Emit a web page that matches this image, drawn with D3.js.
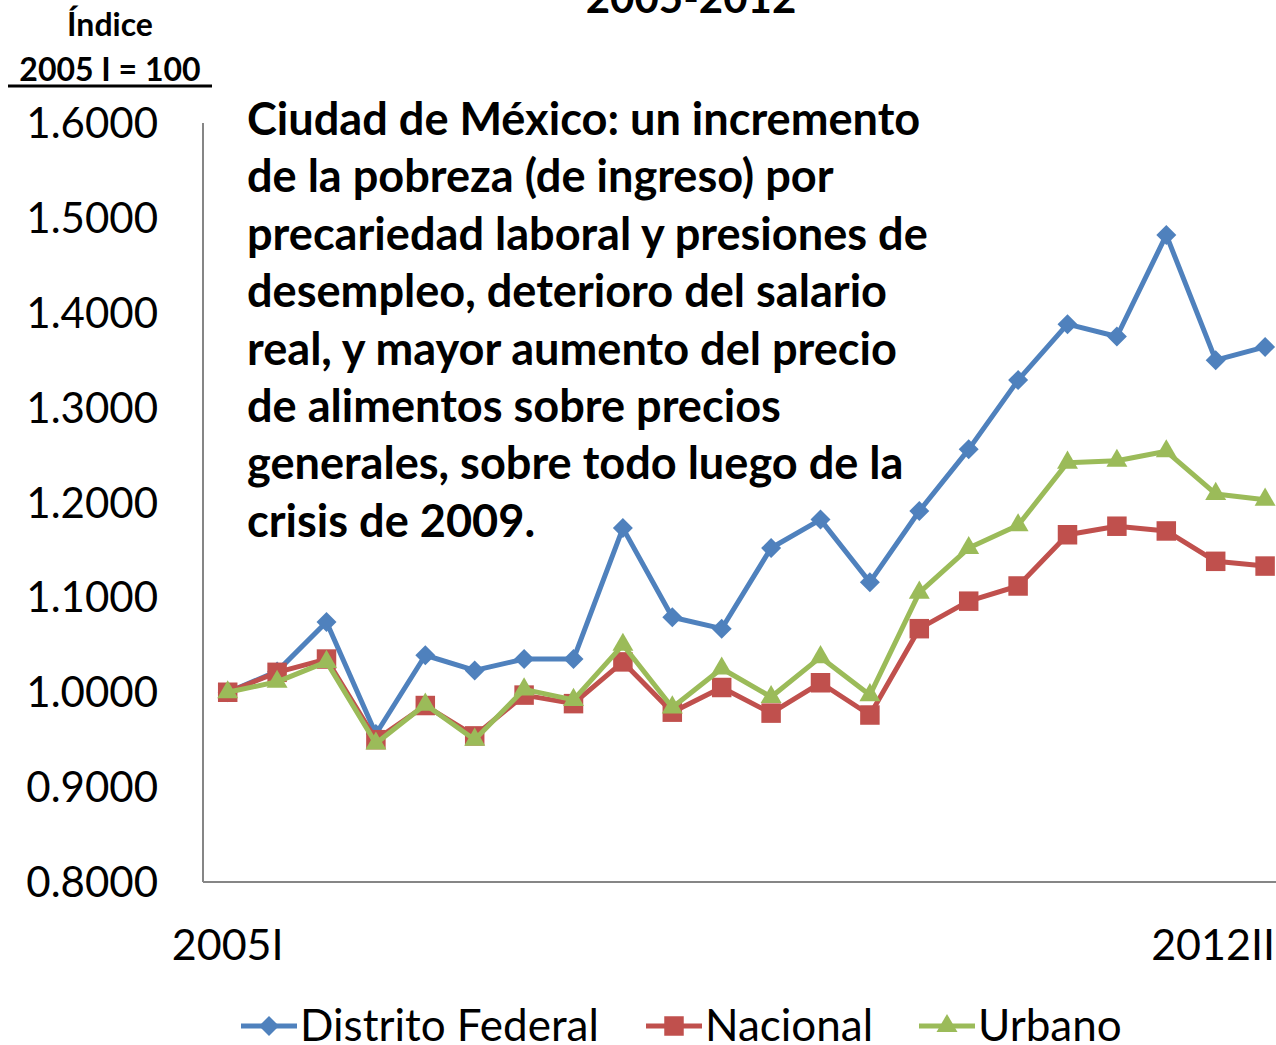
<!DOCTYPE html>
<html>
<head>
<meta charset="utf-8">
<script src="https://cdn.jsdelivr.net/npm/d3@7"></script>
<style>
  body { margin: 0; background: #fff; }
  svg { display: block; font-family: Lato, "Open Sans", sans-serif; }
</style>
</head>
<body>
<svg width="1276" height="1045"></svg>
<script>

// DATA

var periodLabels = ["2005I", "2012II"];   // only first and last are labelled
var nPeriods = 22;

var distritoFederal = [1.000, 1.022, 1.074, 0.956, 1.039, 1.023, 1.035, 1.035, 1.173, 1.079, 1.067,
                       1.152, 1.182, 1.116, 1.191, 1.256, 1.329, 1.388, 1.375, 1.482, 1.350, 1.364];
var nacional = [1.000, 1.021, 1.035, 0.950, 0.986, 0.954, 0.997, 0.988, 1.032, 0.979, 1.005,
                0.978, 1.010, 0.976, 1.067, 1.096, 1.112, 1.166, 1.175, 1.170, 1.138, 1.133];
var urbano = [1.000, 1.011, 1.032, 0.946, 0.987, 0.950, 1.003, 0.992, 1.050, 0.984, 1.025,
              0.995, 1.037, 0.997, 1.105, 1.152, 1.176, 1.242, 1.244, 1.254, 1.209, 1.203];

var yTicks = [0.8, 0.9, 1.0, 1.1, 1.2, 1.3, 1.4, 1.5, 1.6];

var seriesNames = ["Distrito Federal", "Nacional", "Urbano"];

var annotationLines = [
    "Ciudad de México: un incremento",
    "de la pobreza (de ingreso) por",
    "precariedad laboral y presiones de",
    "desempleo, deterioro del salario",
    "real, y mayor aumento del precio",
    "de alimentos sobre precios",
    "generales, sobre todo luego de la",
    "crisis de 2009."
];

var series = [
    {name: seriesNames[0], values: distritoFederal, color: "#4F81BD", shape: "diamond"},
    {name: seriesNames[1], values: nacional, color: "#C0504D", shape: "square"},
    {name: seriesNames[2], values: urbano, color: "#9BBB59", shape: "triangle"}
];


var svg = d3.select("svg"),
    width = +svg.attr("width"),
    height = +svg.attr("height");

var plotLeft = 203, plotTop = 123, plotBottom = 882;
var step = 49.4;

var x = d3.scaleBand()
    .domain(d3.range(nPeriods))
    .range([plotLeft, plotLeft + step * nPeriods])
    .padding(0);

function cx(i) { return x(i) + x.bandwidth() / 2; }

var y = d3.scaleLinear()
    .domain([0.8, 1.6])
    .range([plotBottom, plotTop]);

// axis lines
var axisColor = "#868686";
svg.append("line")
    .attr("x1", plotLeft).attr("x2", plotLeft)
    .attr("y1", plotTop).attr("y2", plotBottom)
    .attr("stroke", axisColor).attr("stroke-width", 2);
svg.append("line")
    .attr("x1", plotLeft).attr("x2", width)
    .attr("y1", plotBottom).attr("y2", plotBottom)
    .attr("stroke", axisColor).attr("stroke-width", 2);

// y tick labels
svg.append("g")
    .selectAll("text")
    .data(yTicks)
    .enter().append("text")
    .attr("x", 158)
    .attr("y", function (d) { return y(d); })
    .attr("dy", "0.36em")
    .attr("text-anchor", "end")
    .attr("font-size", 42)
    .attr("fill", "#000")
    .text(function (d) { return d3.format(".4f")(d); });

// x tick labels (first and last; the last one is pushed in from the edge)
var xl = svg.append("g");
xl.append("text")
    .attr("x", cx(0))
    .attr("y", 960)
    .attr("text-anchor", "middle")
    .attr("font-size", 43)
    .text(periodLabels[0]);
xl.append("text")
    .attr("x", width - 1)
    .attr("y", 960)
    .attr("text-anchor", "end")
    .attr("font-size", 43)
    .text(periodLabels[1]);

// markers
function symbolFor(shape) {
    if (shape === "diamond") return d3.symbol().type(d3.symbolSquare).size(200)();
    if (shape === "square") return d3.symbol().type(d3.symbolSquare).size(380)();
    return d3.symbol().type(d3.symbolTriangle).size(190)();
}
function rotFor(shape) { return shape === "diamond" ? " rotate(45)" : ""; }

var line = d3.line()
    .x(function (d, i) { return cx(i); })
    .y(function (d) { return y(d); });

var plot = svg.append("g");

series.forEach(function (s) {
    var g = plot.append("g");
    g.append("path")
        .datum(s.values)
        .attr("fill", "none")
        .attr("stroke", s.color)
        .attr("stroke-width", 5)
        .attr("stroke-linejoin", "round")
        .attr("d", line);
    g.selectAll(".dot")
        .data(s.values)
        .enter().append("path")
        .attr("class", "dot")
        .attr("fill", s.color)
        .attr("d", symbolFor(s.shape))
        .attr("transform", function (d, i) {
            return "translate(" + cx(i) + "," + y(d) + ")" + rotFor(s.shape);
        });
});

// annotation
var ann = svg.append("g");
ann.selectAll("text")
    .data(annotationLines)
    .enter().append("text")
    .attr("x", 0)
    .attr("y", function (d, i) { return 135 + i * 57.4; })
    .attr("font-size", 45)
    .attr("font-weight", "bold")
    .attr("fill", "#000")
    .text(function (d) { return d; });
var maxW = d3.max(ann.selectAll("text").nodes(), function (n) { return n.getComputedTextLength(); });
ann.attr("transform", "translate(247,0) scale(" + (681 / maxW) + ",1)");

// title (cropped at the top)
svg.append("text")
    .attr("x", 691)
    .attr("y", 13)
    .attr("text-anchor", "middle")
    .attr("font-size", 42)
    .attr("font-weight", "bold")
    .text("2005-2012");

// y axis header
svg.append("text")
    .attr("x", 110).attr("y", 36)
    .attr("text-anchor", "middle")
    .attr("font-size", 32)
    .attr("font-weight", "bold")
    .text("Índice");
svg.append("text")
    .attr("x", 110).attr("y", 81)
    .attr("text-anchor", "middle")
    .attr("font-size", 32)
    .attr("font-weight", "bold")
    .text("2005 I = 100");
svg.append("line")
    .attr("x1", 8).attr("x2", 212)
    .attr("y1", 86).attr("y2", 86)
    .attr("stroke", "#000").attr("stroke-width", 3);

// legend
var legendX = [241, 646, 919];
var legend = svg.append("g");
series.forEach(function (s, i) {
    var lg = legend.append("g").attr("transform", "translate(" + legendX[i] + ",1026)");
    lg.append("line")
        .attr("x1", 0).attr("x2", 56)
        .attr("stroke", s.color).attr("stroke-width", 5);
    lg.append("path")
        .attr("fill", s.color)
        .attr("d", symbolFor(s.shape))
        .attr("transform", "translate(28,0)" + rotFor(s.shape));
    lg.append("text")
        .attr("x", 59)
        .attr("y", 15)
        .attr("font-size", 44)
        .text(s.name);
});

</script>
</body>
</html>
